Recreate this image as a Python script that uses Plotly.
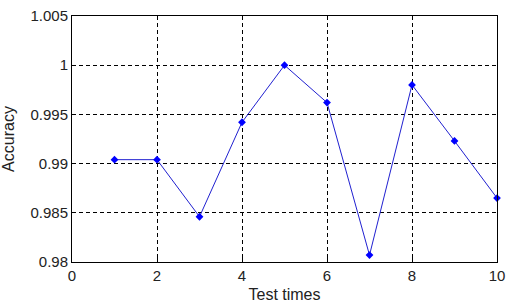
import plotly.graph_objects as go

test_times = [1, 2, 3, 4, 5, 6, 7, 8, 9, 10]
accuracy = [0.9904, 0.9904, 0.9846, 0.9942, 1.0000, 0.9962, 0.9807, 0.9980, 0.9923, 0.9865]
x_ticks = [0, 2, 4, 6, 8, 10]
y_ticks = [0.98, 0.985, 0.99, 0.995, 1.0, 1.005]
y_tick_labels = ["0.98", "0.985", "0.99", "0.995", "1", "1.005"]

font = dict(family="Liberation Sans, Arial", size=15, color="#222")
title_font = dict(family="Liberation Sans, Arial", size=16, color="#222")

fig = go.Figure()
fig.add_trace(go.Scatter(
    x=test_times, y=accuracy, mode="lines+markers",
    line=dict(color="#2020d0", width=1),
    marker=dict(symbol="diamond", size=6, color="#0000ff"),
    showlegend=False, cliponaxis=False,
))

axis_common = dict(
    showline=True, linecolor="black", linewidth=1, mirror=True,
    showgrid=True, gridcolor="black", griddash="4px,3px", gridwidth=1,
    ticks="inside", ticklen=4, tickcolor="black",
    zeroline=False, automargin=False,
    tickfont=font,
)

fig.update_xaxes(range=[0, 10], tickvals=x_ticks, ticktext=[str(v) for v in x_ticks],
                 title=dict(text="Test times", font=title_font, standoff=6),
                 **axis_common)
fig.update_yaxes(range=[0.98, 1.005], tickvals=y_ticks, ticktext=y_tick_labels,
                 title=dict(text="Accuracy", font=title_font, standoff=15),
                 **axis_common)

fig.update_layout(
    width=512, height=303,
    margin=dict(l=72, r=15, t=16, b=41, autoexpand=False),
    paper_bgcolor="white", plot_bgcolor="white",
)
fig.write_html(
    "out.html",
    config={"displayModeBar": False},
    post_script="document.body.style.margin='0';document.body.style.overflow='hidden';",
)
